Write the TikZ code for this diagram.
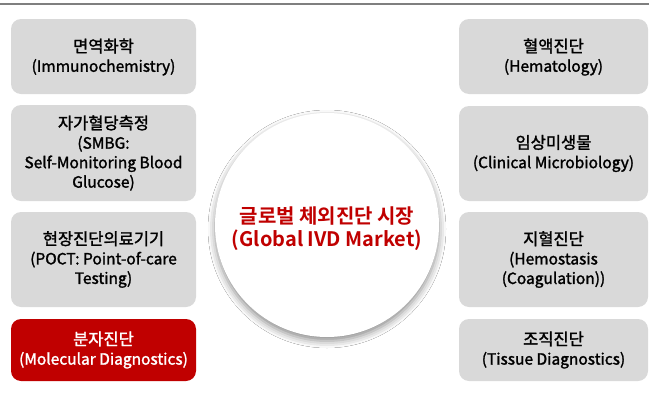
\documentclass[tikz,border=0pt]{standalone}
\usepackage{fontspec}
\setmainfont{Noto Sans CJK KR}
\newfontfamily\boxfont[FakeBold=1.6]{Noto Sans CJK KR}
\newfontfamily\circfont{Noto Sans CJK KR Bold}
\newcommand\kor[1]{{\fontsize{16.5}{19.5}\selectfont #1}}
\usetikzlibrary{shadows.blur}
\definecolor{boxgray}{HTML}{D9D9D9}
\definecolor{darkred}{HTML}{C00000}
\definecolor{linegray}{HTML}{7F7F7F}
\begin{document}
\begin{tikzpicture}[x=1pt,y=-1pt,
  catbox/.style={fill=boxgray, rounded corners=10pt},
  redbox/.style={catbox, fill=darkred},
  boxtext/.style={align=center, inner sep=0pt, font=\boxfont\fontsize{15.5}{19.5}\selectfont, text=black},
  hub/.style={circle, fill=white, minimum size=224pt, inner sep=0pt, align=center,
    font=\circfont\fontsize{20}{23}\selectfont, text=darkred,
    blur shadow={shadow xshift=0pt, shadow yshift=-4pt, shadow blur radius=7pt, shadow opacity=45}}]
\useasboundingbox (0,0) rectangle (649,394);
\fill[white] (0,0) rectangle (649,394);
\coordinate (tl) at (0,3.5);
\coordinate (tr) at (649,3.5);
\draw[linegray, line width=2pt] (tl) -- (tr);
% left column
\path[catbox] (11,19) rectangle (196,94);
\node[boxtext] (l1) at (103.5,57) {\kor{면역화학}\\(Immunochemistry)};
\path[catbox] (11,105) rectangle (196,201);
\node[boxtext] (l2) at (103.5,153) {\kor{자가혈당측정}\\(SMBG:\\Self-Monitoring Blood\\Glucose)};
\path[catbox] (11,212) rectangle (196,307);
\node[boxtext] (l3) at (103.5,259.5) {\kor{현장진단의료기기}\\(POCT: Point-of-care\\Testing)};
\path[redbox] (11,319) rectangle (196,381);
\node[boxtext, text=white] (l4) at (103.5,350) {\kor{분자진단}\\(Molecular Diagnostics)};
% right column
\path[catbox] (459,19) rectangle (648,94);
\node[boxtext] (r1) at (553.5,57) {\kor{혈액진단}\\(Hematology)};
\path[catbox] (459,106) rectangle (648,201);
\node[boxtext] (r2) at (553.5,153.5) {\kor{임상미생물}\\(Clinical Microbiology)};
\path[catbox] (459,212) rectangle (648,307);
\node[boxtext] (r3) at (553.5,259.5) {\kor{지혈진단}\\(Hemostasis\\(Coagulation))};
\path[catbox] (459,319) rectangle (648,381);
\node[boxtext] (r4) at (553.5,350) {\kor{조직진단}\\(Tissue Diagnostics)};
% hub
\node[hub] (hub) at (327,225) {};
\node[align=center, inner sep=0pt, font=\circfont\fontsize{20}{23}\selectfont, text=darkred] (hubtext) at (327,228.5) {글로벌 체외진단 시장\\(Global IVD Market)};
\end{tikzpicture}
\end{document}
